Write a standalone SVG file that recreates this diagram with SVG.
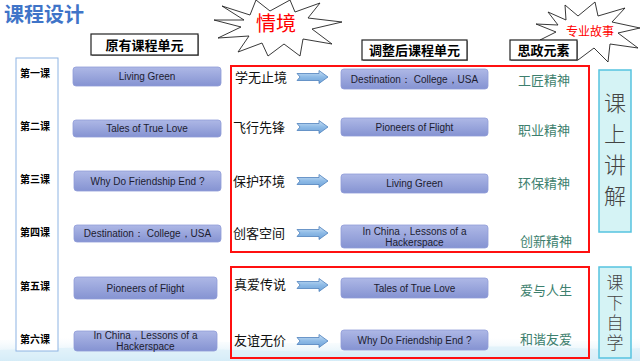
<svg xmlns="http://www.w3.org/2000/svg" width="640" height="361" viewBox="0 0 640 361">
<defs>
<linearGradient id="pill" x1="0" y1="0" x2="0" y2="1">
<stop offset="0" stop-color="#AEB8E6"/>
<stop offset="1" stop-color="#8593D2"/>
</linearGradient>
<linearGradient id="arr" x1="0" y1="0" x2="0" y2="1">
<stop offset="0" stop-color="#C9E0F5"/>
<stop offset="0.5" stop-color="#8DBAE6"/>
<stop offset="1" stop-color="#6FA3D8"/>
</linearGradient>
<linearGradient id="wave" x1="0" y1="0" x2="0" y2="1">
<stop offset="0" stop-color="#E6F4FB" stop-opacity="0"/>
<stop offset="1" stop-color="#CFE9F6"/>
</linearGradient>
<path id="blockArrow" d="M0,-3.5 L22,-3.5 L22,-6.5 L31,0 L22,6.5 L22,3.5 L0,3.5 L3,0 Z"/>
</defs>
<style>
.pill{fill:url(#pill);stroke:#8F9CD8;stroke-width:0.8}
.ptxt{font-family:"Liberation Sans",Arial,sans-serif;font-size:10px;fill:#1C1C30;text-anchor:middle}
.lesson{font-family:"Noto Sans CJK SC",sans-serif;font-size:10px;font-weight:bold;fill:#000}
.ctx{font-family:"Noto Sans CJK SC",serif;font-size:13px;fill:#111}
.elem{font-family:"Noto Sans CJK SC",serif;font-size:13px;fill:#3D7F6E}
.hdr{fill:#fff;stroke:#222;stroke-width:1.2}
.hdrtxt{font-family:"Noto Sans CJK SC",sans-serif;font-size:13px;font-weight:bold;fill:#000;text-anchor:middle}
.red{fill:none;stroke:#FF1010;stroke-width:2}
.vbox{fill:#D5F3F5;stroke:#56C3DF;stroke-width:1.5}
.vtxt{font-family:"Noto Sans CJK SC",serif;fill:#444;font-weight:300;writing-mode:vertical-rl}
.star{fill:#fff;stroke:#222;stroke-width:0.9}
.arrow{fill:url(#arr);stroke:#4F81BD;stroke-width:0.8}
</style>
<rect width="640" height="361" fill="#fff"/>
<!-- bottom decoration -->
<path d="M0,340 C120,332 260,350 400,340 C500,333 580,346 640,338 L640,361 L0,361 Z" fill="url(#wave)"/>
<path d="M0,350 C150,342 300,358 450,348 C540,343 600,352 640,348 L640,361 L0,361 Z" fill="#D9EEF8" opacity="0.6"/>

<g id="title"><text x="4" y="22" font-family="Noto Sans CJK SC,sans-serif" font-size="20" font-weight="bold" fill="#3F74C8">课程设计</text></g>

<g id="star-qingjing">
<polygon class="star" points="222,6 250,15 256,0 270,11 290,0 295,12 320,3 308,18 342,22 312,29 332,44 303,39 300,56 284,44 268,56 262,43 238,52 249,36 218,38 241,27 214,20 244,20"/>
<text x="276" y="31" font-family="Noto Sans CJK SC,sans-serif" font-size="20" fill="#FF0000" text-anchor="middle">情境</text>
</g>

<g id="star-story">
<polygon class="star" points="548,12 566,20 565,5 578,16 595,2 598,16 625,8 612,22 640,28 618,33 638,48 610,44 608,62 594,48 578,60 574,47 552,56 560,42 540,40 556,32 536,24 558,25"/>
<text x="590" y="36" font-family="Noto Sans CJK SC,sans-serif" font-size="12" fill="#FF0000" text-anchor="middle">专业故事</text>
</g>

<g id="hdr-original">
<rect x="92" y="35" width="107" height="21" fill="#999"/>
<rect class="hdr" x="91" y="34" width="107" height="21"/>
<text class="hdrtxt" x="144.5" y="49.5">原有课程单元</text>
</g>
<g id="hdr-adjusted">
<rect x="363" y="41" width="105" height="20" fill="#999"/>
<rect class="hdr" x="362" y="40" width="105" height="20"/>
<text class="hdrtxt" x="414.5" y="55">调整后课程单元</text>
</g>
<g id="hdr-elements">
<rect x="511" y="41" width="67" height="20" fill="#999"/>
<rect class="hdr" x="510" y="40" width="67" height="20"/>
<text class="hdrtxt" x="543.5" y="55">思政元素</text>
</g>

<g id="lesson-column">
<rect x="16" y="58" width="42" height="293" fill="#fff" stroke="#8EB4E3" stroke-width="1"/>
<text class="lesson" x="20" y="77">第一课</text>
<text class="lesson" x="20" y="130">第二课</text>
<text class="lesson" x="20" y="183">第三课</text>
<text class="lesson" x="20" y="236">第四课</text>
<text class="lesson" x="20" y="290">第五课</text>
<text class="lesson" x="20" y="343">第六课</text>
</g>

<g id="orig-1"><rect class="pill" x="73" y="67" width="148" height="19" rx="3"/><text class="ptxt" x="147" y="80">Living Green</text></g>
<g id="orig-2"><rect class="pill" x="73" y="120" width="148" height="17" rx="3"/><text class="ptxt" x="147" y="132">Tales of True Love</text></g>
<g id="orig-3"><rect class="pill" x="74" y="171" width="147" height="20" rx="3"/><text class="ptxt" x="147.5" y="185">Why Do Friendship End ?</text></g>
<g id="orig-4"><rect class="pill" x="74" y="225" width="147" height="17" rx="3"/><text class="ptxt" x="147.5" y="237">Destination： College，USA</text></g>
<g id="orig-5"><rect class="pill" x="74" y="277" width="143" height="22" rx="3"/><text class="ptxt" x="145.5" y="292">Pioneers of Flight</text></g>
<g id="orig-6"><rect class="pill" x="74" y="331" width="143" height="20" rx="3"/><text class="ptxt" x="145.5" y="339">In China，Lessons of a</text><text class="ptxt" x="145.5" y="350">Hackerspace</text></g>

<g id="lecture-frame"><rect class="red" x="231" y="66" width="358" height="186"/></g>
<g id="selfstudy-frame"><rect class="red" x="231" y="267" width="358" height="91"/></g>

<g id="ctx-labels">
<text class="ctx" x="235" y="82">学无止境</text>
<text class="ctx" x="233" y="132">飞行先锋</text>
<text class="ctx" x="233" y="186">保护环境</text>
<text class="ctx" x="233" y="238">创客空间</text>
<text class="ctx" x="234" y="289">真爱传说</text>
<text class="ctx" x="234" y="345">友谊无价</text>
</g>

<g id="connectors">
<use href="#blockArrow" class="arrow" x="297" y="77"/>
<use href="#blockArrow" class="arrow" x="297" y="127"/>
<use href="#blockArrow" class="arrow" x="297" y="181"/>
<use href="#blockArrow" class="arrow" x="297" y="233"/>
<use href="#blockArrow" class="arrow" x="297" y="285"/>
<use href="#blockArrow" class="arrow" x="297" y="341"/>
</g>

<g id="new-1"><rect class="pill" x="341" y="69" width="147" height="20" rx="3"/><text class="ptxt" x="414.5" y="83">Destination： College，USA</text></g>
<g id="new-2"><rect class="pill" x="341" y="118" width="147" height="18" rx="3"/><text class="ptxt" x="414.5" y="131">Pioneers of Flight</text></g>
<g id="new-3"><rect class="pill" x="341" y="174" width="147" height="19" rx="3"/><text class="ptxt" x="414.5" y="187">Living Green</text></g>
<g id="new-4"><rect class="pill" x="341" y="225" width="147" height="23" rx="3"/><text class="ptxt" x="414.5" y="235">In China，Lessons of a</text><text class="ptxt" x="414.5" y="246">Hackerspace</text></g>
<g id="new-5"><rect class="pill" x="341" y="278" width="147" height="20" rx="3"/><text class="ptxt" x="414.5" y="292">Tales of True Love</text></g>
<g id="new-6"><rect class="pill" x="341" y="330" width="147" height="20" rx="3"/><text class="ptxt" x="414.5" y="344">Why Do Friendship End ?</text></g>

<g id="elements">
<text class="elem" x="518" y="85">工匠精神</text>
<text class="elem" x="518" y="135">职业精神</text>
<text class="elem" x="518" y="188">环保精神</text>
<text class="elem" x="520" y="246">创新精神</text>
<text class="elem" x="520" y="295">爱与人生</text>
<text class="elem" x="520" y="344">和谐友爱</text>
</g>

<g id="lecture-box">
<rect class="vbox" x="599" y="70" width="32" height="162"/>
<text class="vtxt" x="615" y="92" font-size="22" letter-spacing="9">课上讲解</text>
</g>
<g id="selfstudy-box">
<rect class="vbox" x="599" y="267" width="32" height="91"/>
<text class="vtxt" x="615" y="274.5" font-size="17" letter-spacing="3">课下自学</text>
</g>
</svg>
